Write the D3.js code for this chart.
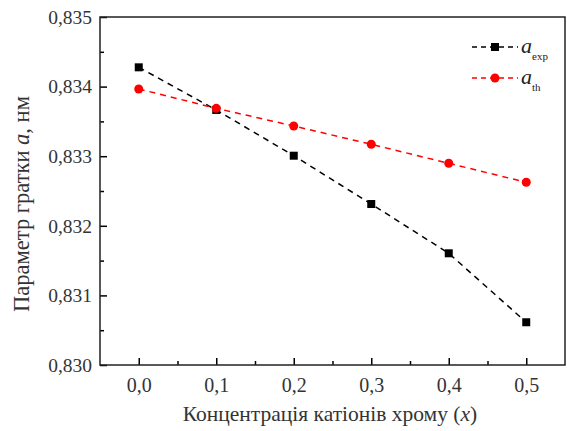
<!DOCTYPE html>
<html>
<head>
<meta charset="utf-8">
<script src="https://cdn.jsdelivr.net/npm/d3@7"></script>
<style>
  body { margin: 0; background: #fff; }
</style>
</head>
<body>
<div id="chart"></div>
<script>
const xValues = [0.0, 0.1, 0.2, 0.3, 0.4, 0.5]
const aExp = [0.834277, 0.833664, 0.833007, 0.832313, 0.831605, 0.830614]
const aTh = [0.833966, 0.833688, 0.833434, 0.833171, 0.832898, 0.832625]
const xTicks = [0.0, 0.1, 0.2, 0.3, 0.4, 0.5]
const yTicks = [0.830, 0.831, 0.832, 0.833, 0.834, 0.835]

const width = 567, height = 431
const margin = {top: 17, right: 2, bottom: 66, left: 100}
const serif = "Liberation Serif, DejaVu Serif, serif"

const svg = d3.select("#chart")
    .append("svg")
    .attr("width", width)
    .attr("height", height)
    .attr("font-family", serif)

const x = d3.scaleLinear()
    .domain([-0.05, 0.55])
    .range([margin.left, width - margin.right])

const y = d3.scaleLinear()
    .domain([0.830, 0.835])
    .range([height - margin.bottom, margin.top])

const comma = d => d.toFixed(1).replace(".", ",")
const commaY = d => d.toFixed(3).replace(".", ",")

// minor ticks
const xMinor = [0.05, 0.15, 0.25, 0.35, 0.45]
const yMinor = [0.8305, 0.8315, 0.8325, 0.8335, 0.8345]

const plotH = y(0.830) - y(0.835)
const plotW = x(0.55) - x(-0.05)

svg.append("g")
    .attr("transform", `translate(0,${y(0.830)})`)
    .call(d3.axisBottom(x).tickValues(xTicks).tickFormat(comma).tickSizeInner(-7).tickSizeOuter(0).tickPadding(13))
    .attr("font-family", serif)
    .call(g => g.select(".domain").remove())
    .call(g => g.selectAll("text").attr("font-size", 20).attr("fill", "#333"))
    .call(g => g.selectAll("line").attr("stroke-width", 1.5))

svg.append("g")
    .attr("transform", `translate(0,${y(0.830)})`)
    .call(d3.axisBottom(x).tickValues(xMinor).tickFormat("").tickSizeInner(-4).tickSizeOuter(0))
    .call(g => g.select(".domain").remove())
    .call(g => g.selectAll("line").attr("stroke-width", 1.5))

svg.append("g")
    .attr("transform", `translate(${x(-0.05)},0)`)
    .call(d3.axisLeft(y).tickValues(yTicks).tickFormat(commaY).tickSizeInner(-7).tickSizeOuter(0).tickPadding(8))
    .attr("font-family", serif)
    .call(g => g.select(".domain").remove())
    .call(g => g.selectAll("text").attr("font-size", 19.5).attr("fill", "#333"))
    .call(g => g.selectAll("line").attr("stroke-width", 1.5))

svg.append("g")
    .attr("transform", `translate(${x(-0.05)},0)`)
    .call(d3.axisLeft(y).tickValues(yMinor).tickFormat("").tickSizeInner(-4).tickSizeOuter(0))
    .call(g => g.select(".domain").remove())
    .call(g => g.selectAll("line").attr("stroke-width", 1.5))

// frame
svg.append("rect")
    .attr("x", x(-0.05))
    .attr("y", y(0.835))
    .attr("width", plotW)
    .attr("height", plotH)
    .attr("fill", "none")
    .attr("stroke", "#222")
    .attr("stroke-width", 1.5)

const line = d3.line()
    .x((d, i) => x(xValues[i]))
    .y(d => y(d))

svg.append("path")
    .datum(aExp)
    .attr("d", line)
    .attr("fill", "none")
    .attr("stroke", "#000")
    .attr("stroke-width", 1.5)
    .attr("stroke-dasharray", "6,5")

svg.append("path")
    .datum(aTh)
    .attr("d", line)
    .attr("fill", "none")
    .attr("stroke", "#ff0000")
    .attr("stroke-width", 1.5)
    .attr("stroke-dasharray", "6,5")

svg.selectAll(".sq")
    .data(aExp)
    .enter().append("rect")
    .attr("class", "sq")
    .attr("x", (d, i) => x(xValues[i]) - 4)
    .attr("y", d => y(d) - 4)
    .attr("width", 8)
    .attr("height", 8)
    .attr("fill", "#000")

svg.selectAll(".dot")
    .data(aTh)
    .enter().append("circle")
    .attr("class", "dot")
    .attr("cx", (d, i) => x(xValues[i]))
    .attr("cy", d => y(d))
    .attr("r", 4.5)
    .attr("fill", "#ff0000")

// legend
const legend = svg.append("g").attr("transform", "translate(472,47)")
const legendItems = [
    {sub: "exp", color: "#000", shape: "square"},
    {sub: "th", color: "#ff0000", shape: "circle"}
]
legendItems.forEach((d, i) => {
    const g = legend.append("g").attr("transform", `translate(0,${i * 31})`)
    g.append("line")
        .attr("x1", 0).attr("x2", 46)
        .attr("stroke", d.color)
        .attr("stroke-width", 1.5)
        .attr("stroke-dasharray", "5,4")
    if (d.shape === "square") {
        g.append("rect").attr("x", 19).attr("y", -4).attr("width", 8).attr("height", 8).attr("fill", d.color)
    } else {
        g.append("circle").attr("cx", 23).attr("r", 4.5).attr("fill", d.color)
    }
    const t = g.append("text")
        .attr("x", 49)
        .attr("y", 6)
        .attr("font-size", 22)
        .attr("fill", "#222")
    t.append("tspan").attr("font-style", "italic").text("a")
    t.append("tspan").attr("font-size", 11).attr("dy", 7).text(d.sub)
})

// axis titles
svg.append("text")
    .attr("x", 330)
    .attr("y", 421)
    .attr("text-anchor", "middle")
    .attr("font-size", 21.5)
    .attr("fill", "#333")
    .call(t => {
        t.append("tspan").text("Концентрація катіонів хрому (")
        t.append("tspan").attr("font-style", "italic").text("x")
        t.append("tspan").text(")")
    })

svg.append("text")
    .attr("transform", "translate(29,204) rotate(-90)")
    .attr("text-anchor", "middle")
    .attr("font-size", 22.5)
    .attr("fill", "#333")
    .call(t => {
        t.append("tspan").text("Параметр гратки ")
        t.append("tspan").attr("font-style", "italic").text("a")
        t.append("tspan").text(", нм")
    })
</script>
</body>
</html>
